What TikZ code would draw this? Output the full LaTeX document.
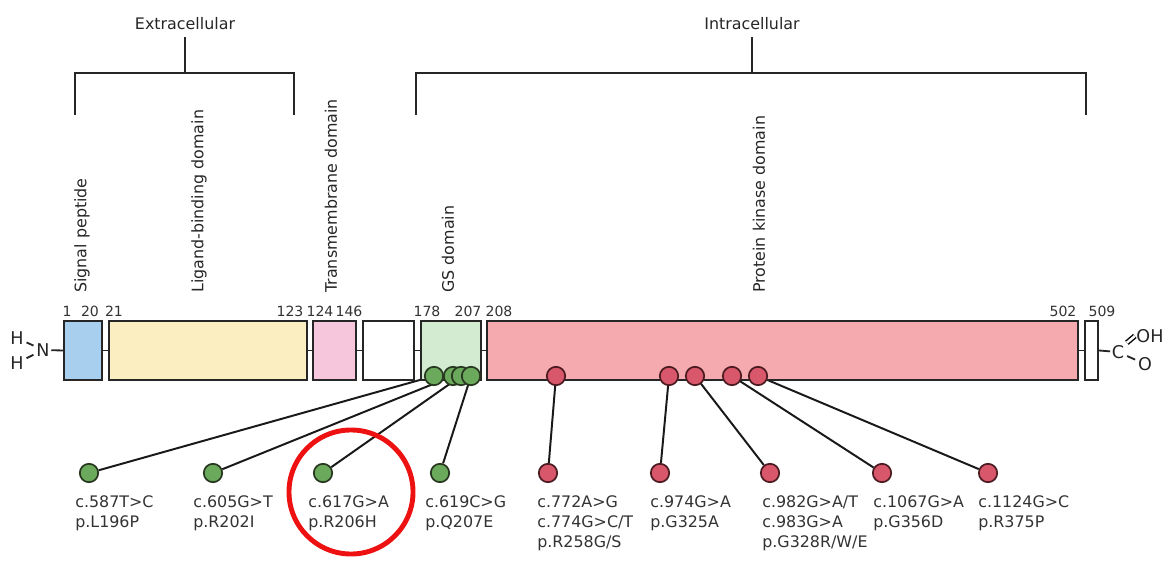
\documentclass[tikz,border=0pt]{standalone}
\usepackage{fontspec}
\setmainfont{DejaVu Sans}
\usetikzlibrary{positioning,backgrounds}
\definecolor{SigBlue}{HTML}{A9CFEE}
\definecolor{LigYellow}{HTML}{FBEFC1}
\definecolor{TmPink}{HTML}{F6C6DC}
\definecolor{GsGreen}{HTML}{D3EBD1}
\definecolor{KinRed}{HTML}{F4AAAE}
\definecolor{MutGreen}{HTML}{6BAA5C}
\definecolor{MutGreenDk}{HTML}{26361F}
\definecolor{MutRed}{HTML}{D9576A}
\definecolor{MutRedDk}{HTML}{4A1A20}
\definecolor{HiRed}{HTML}{EE1111}

\begin{document}
\begin{tikzpicture}[
  x=0.025cm, y=-0.025cm,
  dom/.style={draw=black!85,line width=1.4pt,anchor=north west,
    minimum height=1.475cm,inner sep=0pt},
  lnk/.style={line width=1.3pt,color=black!85},
  num/.style={font=\fontsize{10}{12}\selectfont,inner sep=0pt,text=black!80},
  rot/.style={rotate=90,anchor=west,font=\fontsize{11.3}{13}\selectfont,
    inner sep=0pt,text=black!85},
  side/.style={font=\fontsize{11.3}{13}\selectfont,inner sep=5pt,text=black!85},
  brk/.style={line width=1.5pt,color=black!85},
  chem/.style={font=\fontsize{12.5}{14}\selectfont,inner sep=1pt,text=black!85},
  mutg/.style={circle,draw=MutGreenDk,fill=MutGreen,line width=1.2pt,
    minimum size=0.46cm,inner sep=0pt},
  mutr/.style={circle,draw=MutRedDk,fill=MutRed,line width=1.2pt,
    minimum size=0.46cm,inner sep=0pt},
  lab/.style={anchor=north west,align=left,inner sep=0pt,
    font=\fontsize{11.3}{14.2}\selectfont,text=black!80},
  stick/.style={line width=1.4pt,color=black!90}
]
\useasboundingbox (0,0) rectangle (1162,563);

% brackets
\node[side] (extra) at (185,24) {Extracellular};
\node[side] (intra) at (752,24) {Intracellular};
\coordinate (exl) at (75,115);
\coordinate (exm) at (185,73);
\coordinate (exr) at (294,115);
\coordinate (inl) at (416,115);
\coordinate (inm) at (752,73);
\coordinate (inr) at (1086,115);
\draw[brk] (exl) |- (exm) -| (exr);
\draw[brk] (extra) -- (exm);
\draw[brk] (inl) |- (inm) -| (inr);
\draw[brk] (intra) -- (inm);

% domain names
\node[rot] (tsig) at (82,293) {Signal peptide};
\node[rot] (tlig) at (199,293) {Ligand-binding domain};
\node[rot] (ttm) at (331,293) {Transmembrane domain};
\node[rot] (tgs) at (448,293) {GS domain};
\node[rot] (tpk) at (759,293) {Protein kinase domain};

% domains
\node[dom,fill=SigBlue,minimum width=0.95cm] (sig) at (63,320) {};
\node[dom,fill=LigYellow,minimum width=4.95cm] (lig) at (108,320) {};
\node[dom,fill=TmPink,minimum width=1.075cm] (tm) at (312,320) {};
\node[dom,fill=white,minimum width=1.275cm] (jux) at (362,320) {};
\node[dom,fill=GsGreen,minimum width=1.5cm] (gs) at (420,320) {};
\node[dom,fill=KinRed,minimum width=14.775cm] (pk) at (486,320) {};
\node[dom,fill=white,minimum width=0.325cm] (ct) at (1084,320) {};
\draw[lnk] (sig.east) -- (lig.west);
\draw[lnk] (lig.east) -- (tm.west);
\draw[lnk] (tm.east) -- (jux.west);
\draw[lnk] (jux.east) -- (gs.west);
\draw[lnk] (gs.east) -- (pk.west);
\draw[lnk] (pk.east) -- (ct.west);

% residue numbers
\node[num] at (67,311) {1};
\node[num] at (90,311) {20};
\node[num] at (114,311) {21};
\node[num] at (290,311) {123};
\node[num] at (320,311) {124};
\node[num] at (349,311) {146};
\node[num] at (427,311) {178};
\node[num] at (468,311) {207};
\node[num] at (499,311) {208};
\node[num] at (1063,311) {502};
\node[num] at (1102,311) {509};

% termini
\node[chem] (nn) at (43,350) {N};
\node[chem] (h1) at (17,338) {H};
\node[chem] (h2) at (17,363) {H};
\draw[lnk,shorten <=1pt,shorten >=1pt] (h1) -- (nn);
\draw[lnk,shorten <=1pt,shorten >=1pt] (h2) -- (nn);
\draw[lnk] (nn) -- (sig.west);
\node[chem] (cc) at (1118,352) {C};
\node[chem] (oh) at (1150,336) {OH};
\node[chem] (oo) at (1145,364) {O};
\draw[lnk] (ct.east) -- (cc);
\draw[line width=1pt,double,double distance=1.8pt,shorten <=1pt]
  (cc.north east) -- (oh.west);
\draw[lnk,shorten <=1pt,shorten >=1pt] (cc) -- (oo);

% mutations on the protein
\node[mutg] (g1) at (434,376) {};
\node[mutg] (g2) at (453,376) {};
\node[mutg] (g3) at (461,376) {};
\node[mutg] (g4) at (471,376) {};
\node[mutr] (r1) at (556,376) {};
\node[mutr] (r2) at (669,376) {};
\node[mutr] (r3) at (695,376) {};
\node[mutr] (r4) at (732,376) {};
\node[mutr] (r5) at (758,376) {};

% mutations below
\node[mutg] (lg1) at (89,473) {};
\node[mutg] (lg2) at (213,473) {};
\node[mutg] (lg3) at (323,473) {};
\node[mutg] (lg4) at (440,473) {};
\node[mutr] (lr1) at (548,473) {};
\node[mutr] (lr2) at (660,473) {};
\node[mutr] (lr3) at (770,473) {};
\node[mutr] (lr4) at (882,473) {};
\node[mutr] (lr5) at (988,473) {};

\begin{pgfonlayer}{background}
\draw[stick] (g1.center) -- (lg1);
\draw[stick] (g2.center) -- (lg2);
\draw[stick] (g3.center) -- (lg3);
\draw[stick] (g4.center) -- (lg4);
\draw[stick] (r1.center) -- (lr1);
\draw[stick] (r2.center) -- (lr2);
\draw[stick] (r3.center) -- (lr3);
\draw[stick] (r4.center) -- (lr4);
\draw[stick] (r5.center) -- (lr5);
\end{pgfonlayer}

\node[lab] (m1) at (75,495) {c.587T>C\\p.L196P};
\node[lab] (m2) at (193,495) {c.605G>T\\p.R202I};
\node[lab] (m3) at (308,495) {c.617G>A\\p.R206H};
\node[lab] (m4) at (425,495) {c.619C>G\\p.Q207E};
\node[lab] (m5) at (537,495) {c.772A>G\\c.774G>C/T\\p.R258G/S};
\node[lab] (m6) at (650,495) {c.974G>A\\p.G325A};
\node[lab] (m7) at (762,495) {c.982G>A/T\\c.983G>A\\p.G328R/W/E};
\node[lab] (m8) at (873,495) {c.1067G>A\\p.G356D};
\node[lab] (m9) at (978,495) {c.1124G>C\\p.R375P};

% highlight
\node[circle,draw=HiRed,line width=3.5pt,minimum size=3.1cm] (hl) at (351,492) {};
\end{tikzpicture}
\end{document}
